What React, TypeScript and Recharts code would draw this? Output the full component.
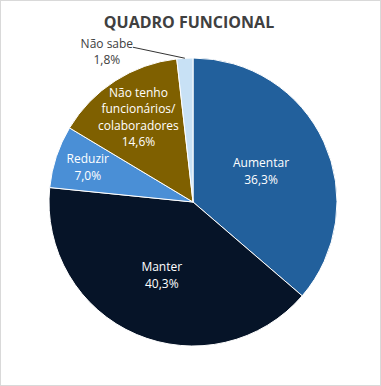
import React from "react";
import { PieChart, Pie, Cell } from "recharts";

const categories = [
  "Aumentar",
  "Manter",
  "Reduzir",
  "Não tenho funcionários/ colaboradores",
  "Não sabe",
];
const values = [36.3, 40.3, 7.0, 14.6, 1.8];
const labelLines = [
  ["Aumentar"],
  ["Manter"],
  ["Reduzir"],
  ["Não tenho", "funcionários/", "colaboradores"],
  ["Não sabe"],
];

const colors = ["#22609c", "#061428", "#4a8fd6", "#7f6000", "#c8e1f5"];
// how far from the centre each inside label sits (fraction of the radius)
const labelRadius = [0.52, 0.55, 0.77, 0.7, 0];

const RAD = Math.PI / 180;
const fmt = (v: number) => v.toFixed(1).replace(".", ",") + "%";

const data = categories.map((name, i) => ({ name, value: values[i] }));

const renderLabel = (props: any) => {
  const { cx, cy, midAngle, outerRadius, index } = props;
  const lines = [...labelLines[index], fmt(values[index])];
  const lh = 16.5;

  if (index === 4) {
    // small slice: label outside with a leader line
    const ex = cx + outerRadius * Math.cos(-midAngle * RAD);
    const ey = cy + outerRadius * Math.sin(-midAngle * RAD);
    const tx = ex - 78;
    const ty = ey - 7;
    return (
      <g>
        <line
          x1={ex}
          y1={ey}
          x2={tx + 26}
          y2={ty - 4}
          stroke="#000"
          strokeWidth={0.8}
        />
        {lines.map((l, i) => (
          <text
            key={i}
            x={tx}
            y={ty - 8 + i * lh}
            textAnchor="middle"
            dominantBaseline="central"
            fill="#404040"
            fontSize={12}
            fontFamily="'Open Sans', sans-serif"
          >
            {l}
          </text>
        ))}
      </g>
    );
  }

  const r = outerRadius * labelRadius[index];
  const x = cx + r * Math.cos(-midAngle * RAD);
  const y = cy + r * Math.sin(-midAngle * RAD);
  const y0 = y - ((lines.length - 1) * lh) / 2;
  return (
    <g>
      {lines.map((l, i) => (
        <text
          key={i}
          x={x}
          y={y0 + i * lh}
          textAnchor="middle"
          dominantBaseline="central"
          fill="#ffffff"
          fontSize={12}
          fontFamily="'Open Sans', sans-serif"
        >
          {l}
        </text>
      ))}
    </g>
  );
};

export default function App() {
  return (
    <div
      style={{
        position: "absolute",
        left: 0,
        top: 0,
        width: 381,
        height: 386,
        boxSizing: "border-box",
        border: "1px solid #d9d9d9",
        background: "#fff",
      }}
    >
      <div
        style={{
          position: "absolute",
          left: 0,
          top: 10,
          width: 376,
          textAlign: "center",
          fontFamily: "'Open Sans', sans-serif",
          fontWeight: 700,
          fontSize: 16,
          color: "#404040",
        }}
      >
        QUADRO FUNCIONAL
      </div>
      <div style={{ position: "absolute", left: -1, top: -1 }}>
        <PieChart
          width={381}
          height={386}
          margin={{ top: 0, right: 0, bottom: 0, left: 0 }}
        >
          <Pie
            data={data}
            dataKey="value"
            nameKey="name"
            cx={193}
            cy={202}
            outerRadius={144}
            startAngle={90}
            endAngle={-270}
            stroke="#ffffff"
            strokeWidth={1}
            label={renderLabel}
            labelLine={false}
            isAnimationActive={false}
          >
            {data.map((d, i) => (
              <Cell key={d.name} fill={colors[i]} />
            ))}
          </Pie>
        </PieChart>
      </div>
    </div>
  );
}
